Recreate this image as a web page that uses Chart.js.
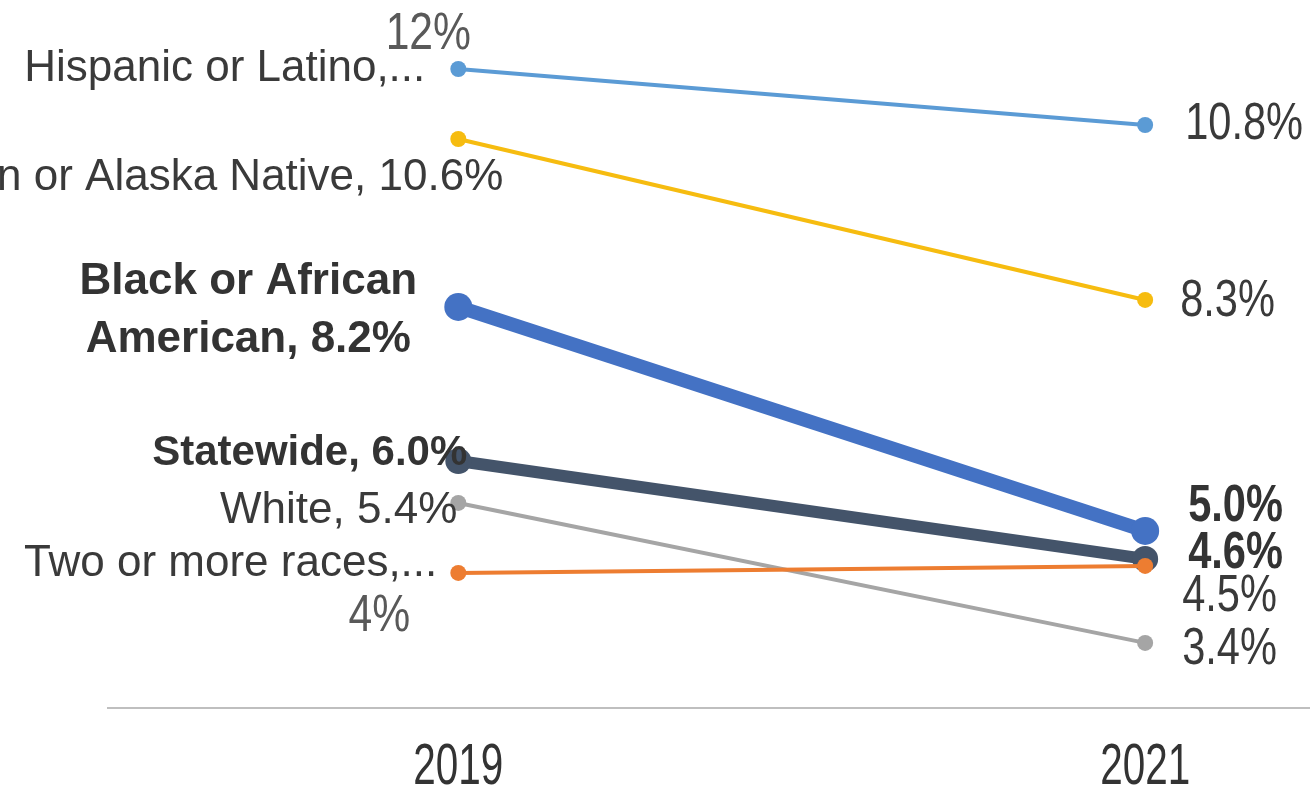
<!DOCTYPE html>
<html>
<head>
<meta charset="utf-8">
<script src="https://cdn.jsdelivr.net/npm/chart.js@4.4.1/dist/chart.umd.min.js"></script>
<style>
  html, body { margin: 0; padding: 0; background: #fff; overflow: hidden; }
  canvas { display: block; }
</style>
</head>
<body>
<canvas id="gapChart" width="1310" height="795"></canvas>
<script>
const years = [2019, 2021];
const groups = ['Hispanic or Latino', 'American Indian or Alaska Native', 'Black or African American', 'Statewide', 'White', 'Two or more races'];

// rates (percent)
const hispanic = [11.6, 10.8];
const nativeAm = [10.6, 8.3];
const black = [8.2, 5.0];
const statewide = [6.0, 4.6];
const white = [5.4, 3.4];
const twoOrMore = [4.4, 4.5];

// data labels as printed on the original
const startNames = ['Hispanic or Latino,...', 'American Indian or Alaska Native, 10.6%', ['Black or African', 'American, 8.2%'], 'Statewide, 6.0%', 'White, 5.4%', 'Two or more races,...'];
const startExtra = ['12%', '', '', '', '', '4%'];
const endLabels = ['10.8%', '8.3%', '5.0%', '4.6%', '3.4%', '4.5%'];

const colors = ['#5B9BD5', '#F6BC10', '#4472C4', '#44546A', '#A5A5A5', '#ED7D31'];
const widths = [4, 4, 14, 12, 4, 4];
const radii = [8, 8, 14, 13, 8, 8];
const stack = [2, 3, 4, 5, 1, 0]; // lower = drawn on top

// label placement relative to the point (style only)
const startStyle = [
  { dx: -33, dy: 0, align: 'right', bold: false },
  { dx: 45, dy: 39, align: 'right', bold: false },
  { dx: -210, dy: -25, align: 'center', bold: true, lh: 58 },
  { dx: 9, dy: -8, align: 'right', bold: true },
  { dx: -1, dy: 8, align: 'right', bold: false },
  { dx: -21, dy: -9, align: 'right', bold: false }
];
const extraStyle = [
  { dx: -30, dy: -34 },
  null, null, null, null,
  { dx: -79, dy: 44 }
];
const endStyle = [
  { dx: 40, dy: 0, bold: false },
  { dx: 35, dy: 2, bold: false },
  { dx: 43, dy: -24, bold: true },
  { dx: 43, dy: -5, bold: true },
  { dx: 37, dy: 7, bold: false },
  { dx: 37, dy: 31, bold: false }
];

const series = [hispanic, nativeAm, black, statewide, white, twoOrMore];
const FAMILY = '"Liberation Sans", Arial, sans-serif';
const NAME_DARK = '#3a3a3a';

const ctx = document.getElementById('gapChart').getContext('2d');

function drawText(c, text, x, y, align, font, color, sx) {
  c.save();
  c.font = font;
  c.fillStyle = color;
  c.textBaseline = 'middle';
  c.textAlign = align;
  c.translate(x, y);
  c.scale(sx, 1);
  c.fillText(text, 0, 0);
  c.restore();
}

const slopeLabels = {
  id: 'slopeLabels',
  afterDatasetsDraw(chart) {
    const c = chart.ctx;
    series.forEach((s, i) => {
      const meta = chart.getDatasetMeta(i);
      const p0 = meta.data[0], p1 = meta.data[1];
      const st = startStyle[i];
      const f = (st.bold ? 'bold ' : '') + (st.bold && i === 3 ? 42 : 44) + 'px ' + FAMILY;
      const col = st.bold ? '#333' : NAME_DARK;
      if (Array.isArray(startNames[i])) {
        startNames[i].forEach((line, k) => {
          drawText(c, line, p0.x + st.dx, p0.y + st.dy + k * st.lh, st.align, f, col, 1);
        });
      } else {
        drawText(c, startNames[i], p0.x + st.dx, p0.y + st.dy, st.align, f, col, 1);
      }
      const ex = extraStyle[i];
      if (ex && startExtra[i]) {
        drawText(c, startExtra[i], p0.x + ex.dx, p0.y + ex.dy, 'center', '52px ' + FAMILY, '#595959', 0.82);
      }
      const en = endStyle[i];
      drawText(c, endLabels[i], p1.x + en.dx, p1.y + en.dy, 'left',
        (en.bold ? 'bold ' : '') + '52px ' + FAMILY, en.bold ? '#333' : NAME_DARK, 0.8);
    });
  },
  afterDraw(chart) {
    // year labels, condensed like the original
    const xs = chart.scales.x;
    xs.ticks.forEach(t => {
      drawText(chart.ctx, String(t.value), xs.getPixelForValue(t.value), chart.chartArea.bottom + 60,
        'center', '57px ' + FAMILY, '#333', 0.71);
    });
  }
};

new Chart(ctx, {
  type: 'line',
  data: {
    datasets: series.map((s, i) => ({
      label: groups[i],
      data: s.map((v, k) => ({ x: years[k], y: v })),
      borderColor: colors[i],
      backgroundColor: colors[i],
      borderWidth: widths[i],
      pointRadius: radii[i],
      pointBorderWidth: 0,
      order: stack[i]
    }))
  },
  options: {
    responsive: false,
    animation: false,
    layout: { autoPadding: false, padding: { left: 108, top: 20, right: 0, bottom: 0 } },
    plugins: { legend: { display: false }, tooltip: { enabled: false } },
    scales: {
      x: {
        type: 'linear',
        min: 2017.98,
        max: 2021.48,
        afterBuildTicks: (scale) => { scale.ticks = years.map(v => ({ value: v })); },
        afterFit: (scale) => { scale.height = 87; scale.paddingLeft = 0; scale.paddingRight = 0; },
        grid: { display: false },
        border: { display: true, color: '#BFBFBF', width: 2 },
        ticks: { display: false }
      },
      y: { display: false, min: 2.47, max: 12.3 }
    }
  },
  plugins: [slopeLabels]
});
</script>
</body>
</html>
